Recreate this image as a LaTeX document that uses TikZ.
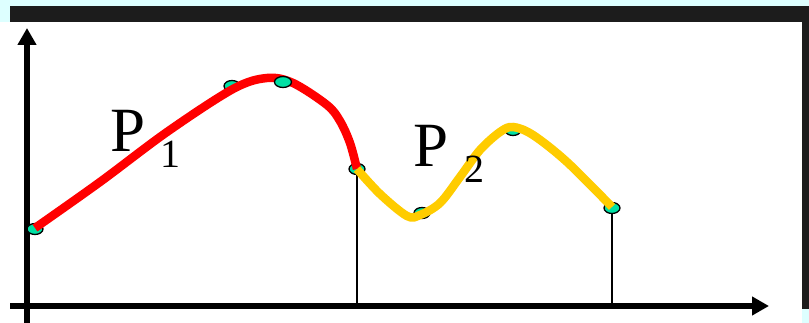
\documentclass[tikz,border=0pt]{standalone}
\usepackage{fontspec}
\setmainfont{Liberation Serif}
\usetikzlibrary{arrows.meta}
\definecolor{bgcyan}{RGB}{221,255,255}
\definecolor{barblack}{RGB}{28,28,28}
\definecolor{ptteal}{RGB}{0,224,164}
\definecolor{curvered}{RGB}{255,0,0}
\definecolor{curveyellow}{RGB}{255,204,0}
\tikzset{
  axisline/.style={line width=6pt, -{Triangle[width=18pt,length=17pt]}},
  dropline/.style={line width=1.4pt, black},
  ctrlpt/.style={draw=black, line width=1.3pt, fill=ptteal},
  redcurve/.style={line width=8.5pt, curvered, line cap=butt},
  yellowcurve/.style={line width=8.5pt, curveyellow, line cap=butt},
  biglabel/.style={inner sep=0pt, anchor=base west, font=\fontsize{63}{63}\selectfont},
  sublabel/.style={inner sep=0pt, anchor=base west, font=\fontsize{40}{40}\selectfont}
}
\begin{document}
\begin{tikzpicture}[x=1pt,y=-1pt]
\useasboundingbox (0,0) rectangle (809,323);
% background
\fill[bgcyan] (0,0) rectangle (809,323);
\fill[white] (0,22) rectangle (802,323);
\fill[barblack] (10,6) rectangle (809,22);
\fill[barblack] (802,6) rectangle (809,309);
% axes
\coordinate (ybot) at (27,323);
\coordinate (ytop) at (27,28);
\coordinate (xleft) at (10,306);
\coordinate (xright) at (769,306);
\draw[axisline] (ybot) -- (ytop);
\draw[axisline] (xleft) -- (xright);
% control points
\coordinate (p0) at (35,229);
\coordinate (p1) at (232,86);
\coordinate (p2) at (283,82);
\coordinate (p3) at (357,169);
\coordinate (p4) at (422,213);
\coordinate (p5) at (513,130);
\coordinate (p6) at (612,208);
\coordinate (b3) at (357,306);
\coordinate (b6) at (612,306);
% drop lines
\draw[dropline] (p3) -- (b3);
\draw[dropline] (p6) -- (b6);
% points under curves
\foreach \p in {p0,p1,p3,p4,p5,p6}
  \draw[ctrlpt] (\p) ellipse [x radius=8pt, y radius=5.5pt];
% curves
\draw[redcurve] plot[smooth, tension=0.55] coordinates {
  (35,228) (100,182) (167,132) (233,89) (267,78) (293,83) (327,105) (340,121) (350,143) (357,169)};
\draw[yellowcurve] plot[smooth, tension=0.55] coordinates {
  (357,169) (380,194) (407,216) (420,215) (440,203) (460,177) (480,150) (500,132) (513,127) (533,135) (567,162) (612,207)};
% point on top
\draw[ctrlpt] (p2) ellipse [x radius=8.5pt, y radius=5.5pt];
% labels
\node[biglabel] (P1) at (110,152) {P};
\node[sublabel] (s1) at (160,168) {1};
\node[biglabel] (P2) at (413,167) {P};
\node[sublabel] (s2) at (464,183) {2};
\end{tikzpicture}
\end{document}
